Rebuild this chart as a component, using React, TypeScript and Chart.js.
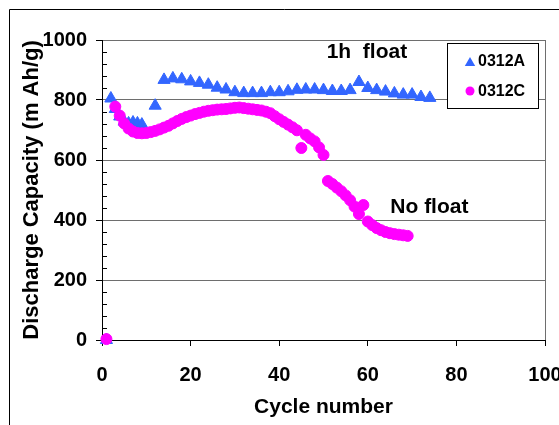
import { useEffect, useRef } from "react";
import { Chart, registerables } from "chart.js";

Chart.register(...registerables);

const FONT = "'Liberation Sans', Arial, Helvetica, sans-serif";

// ---- data ----
const seriesNames = ["0312A", "0312C"];

const cyclesA = [1, 2, 3, 4, 5, 6, 7, 8, 9, 12, 14, 16, 18, 20, 22, 24, 26, 28, 30, 32, 34, 36, 38, 40, 42, 44, 46, 48, 50, 52, 54, 56, 58, 60, 62, 64, 66, 68, 70, 72, 74];
const capacityA = [0, 805, 770, 745, 728, 722, 725, 722, 718, 781, 867, 872, 869, 862, 857, 851, 841, 835, 826, 823, 823, 823, 826, 826, 829, 834, 835, 835, 833, 830, 830, 833, 860, 840, 833, 828, 822, 818, 818, 810, 807];

const cyclesC = [1, 3, 4, 5, 6, 7, 8, 9, 10, 11, 12, 13, 14, 15, 16, 17, 18, 19, 20, 21, 22, 23, 24, 25, 26, 27, 28, 29, 30, 31, 32, 33, 34, 35, 36, 37, 38, 39, 40, 41, 42, 43, 44, 45, 46, 47, 48, 49, 50, 51, 52, 53, 54, 55, 56, 57, 58, 59, 60, 61, 62, 63, 64, 65, 66, 67, 68, 69];
const capacityC = [3, 778, 748, 722, 705, 695, 690, 689, 690, 693, 697, 702, 708, 714, 722, 730, 737, 743, 748, 753, 757, 761, 764, 766, 768, 769, 770, 772, 774, 775, 773, 771, 769, 767, 765, 761, 756, 746, 736, 727, 718, 709, 699, 640, 684, 672, 662, 642, 617, 530, 520, 508, 496, 482, 466, 445, 420, 450, 395, 383, 373, 366, 360, 356, 353, 351, 349, 347];

const xMin = 0, xMax = 100, xStep = 20;
const yMin = 0, yMax = 1000, yStep = 200, yMinorStep = 40;

const xTitle = "Cycle number";
const yTitle = "Discharge Capacity (m Ah/g)";
const noteFloat = "1h  float";
const noteNoFloat = "No float";
// anchor of the notes, in data units
const noteFloatAt = { x: 59.8, y: 960 };
const noteNoFloatAt = { x: 73.9, y: 443 };

const BLUE = "#3366FF";
const MAGENTA = "#FF00FF";
const GRID = "#6e6e6e";

function triangle(ctx: CanvasRenderingContext2D, x: number, y: number, r: number) {
  ctx.beginPath();
  for (let i = 0; i < 3; i++) {
    const a = (i * 2 * Math.PI) / 3;
    const px = x + Math.sin(a) * r;
    const py = y - Math.cos(a) * r;
    if (i === 0) ctx.moveTo(px, py);
    else ctx.lineTo(px, py);
  }
  ctx.closePath();
  ctx.fill();
}

const decorPlugin = {
  id: "decor",
  beforeDraw(chart: any) {
    const ctx = chart.ctx as CanvasRenderingContext2D;
    ctx.save();
    ctx.fillStyle = "#fff";
    ctx.fillRect(0, 0, chart.width, chart.height);
    ctx.strokeStyle = "#000";
    ctx.lineWidth = 1;
    ctx.beginPath();
    ctx.moveTo(9.5, chart.height);
    ctx.lineTo(9.5, 9.5);
    ctx.lineTo(chart.width, 9.5);
    ctx.stroke();
    ctx.restore();
  },
  afterDraw(chart: any) {
    const ctx = chart.ctx as CanvasRenderingContext2D;
    const ca = chart.chartArea;
    const ys = chart.scales.y;
    const xs = chart.scales.x;
    ctx.save();
    // minor ticks on the y axis, inside
    ctx.strokeStyle = "#000";
    ctx.lineWidth = 1;
    ctx.beginPath();
    for (let v = yMin; v <= yMax; v += yMinorStep) {
      if (v % yStep === 0) continue;
      const p = Math.round(ys.getPixelForValue(v)) + 0.5;
      ctx.moveTo(ca.left, p);
      ctx.lineTo(ca.left + 5, p);
    }
    ctx.stroke();

    // notes
    ctx.fillStyle = "#000";
    ctx.font = `bold 21px ${FONT}`;
    ctx.textAlign = "center";
    ctx.textBaseline = "middle";
    ctx.fillText(noteFloat, xs.getPixelForValue(noteFloatAt.x), ys.getPixelForValue(noteFloatAt.y));
    ctx.fillText(noteNoFloat, xs.getPixelForValue(noteNoFloatAt.x), ys.getPixelForValue(noteNoFloatAt.y));

    // legend box
    const bx = Math.round(ca.right - 98);
    const by = Math.round(ca.top + 3);
    const bw = 91;
    const bh = 65;
    ctx.fillStyle = "#fff";
    ctx.fillRect(bx, by, bw, bh);
    ctx.strokeStyle = "#000";
    ctx.strokeRect(bx + 0.5, by + 0.5, bw, bh);
    ctx.font = `bold 16px ${FONT}`;
    ctx.textAlign = "left";
    ctx.fillStyle = BLUE;
    triangle(ctx, bx + 23, by + 20, 6);
    ctx.fillStyle = MAGENTA;
    ctx.beginPath();
    ctx.arc(bx + 23, by + 48, 4.5, 0, Math.PI * 2);
    ctx.fill();
    ctx.fillStyle = "#000";
    ctx.fillText(seriesNames[0], bx + 31, by + 19);
    ctx.fillText(seriesNames[1], bx + 31, by + 49);
    ctx.restore();
  },
};

export default function App() {
  const ref = useRef<HTMLCanvasElement | null>(null);

  useEffect(() => {
    if (!ref.current) return;
    const chart = new Chart(ref.current, {
      type: "scatter",
      data: {
        datasets: [
          {
            label: seriesNames[0],
            data: cyclesA.map((c, i) => ({ x: c, y: capacityA[i] })),
            pointStyle: "triangle",
            pointRadius: 7,
            pointBackgroundColor: BLUE,
            pointBorderColor: BLUE,
            pointBorderWidth: 1,
            showLine: false,
            clip: false,
            order: 2,
          },
          {
            label: seriesNames[1],
            data: cyclesC.map((c, i) => ({ x: c, y: capacityC[i] })),
            pointStyle: "circle",
            pointRadius: 5.5,
            pointBackgroundColor: MAGENTA,
            pointBorderColor: MAGENTA,
            pointBorderWidth: 1,
            showLine: false,
            clip: false,
            order: 1,
          },
        ],
      },
      options: {
        responsive: false,
        animation: false,
        devicePixelRatio: 1,
        layout: { padding: { left: 10, top: 40, right: 14, bottom: 0 } },
        plugins: {
          legend: { display: false },
          tooltip: { enabled: false },
        },
        scales: {
          x: {
            type: "linear",
            position: "bottom",
            min: xMin,
            max: xMax,
            ticks: {
              stepSize: xStep,
              color: "#000",
              font: { family: FONT, size: 20, weight: "bold" },
              padding: 17,
              maxRotation: 0,
              callback: (v: any) => String(v),
            },
            grid: {
              color: (c: any) => (c.tick && c.tick.value === xMax ? GRID : "rgba(0,0,0,0)"),
              tickColor: "#000",
              tickLength: 6,
              drawOnChartArea: true,
            },
            border: { display: true, color: "#000", width: 1 },
            title: {
              display: true,
              text: xTitle,
              color: "#000",
              font: { family: FONT, size: 21, weight: "bold" },
              padding: { top: 0, bottom: 5 },
            },
            afterFit: (s: any) => {
              s.height = 85;
              s.paddingLeft = 0;
              s.paddingRight = 0;
            },
          },
          y: {
            type: "linear",
            min: yMin,
            max: yMax,
            ticks: {
              stepSize: yStep,
              color: "#000",
              font: { family: FONT, size: 20, weight: "bold" },
              padding: 9,
              callback: (v: any) => String(v),
            },
            grid: {
              color: (c: any) => (c.tick && c.tick.value === yMin ? "rgba(0,0,0,0)" : GRID),
              tickColor: "#000",
              tickLength: 6,
            },
            border: { display: true, color: "#000", width: 1 },
            title: {
              display: true,
              text: yTitle,
              color: "#000",
              font: { family: FONT, size: 22, weight: "bold" },
              padding: { top: 9, bottom: 0 },
            },
            afterFit: (s: any) => {
              s.width = 92;
              s.paddingTop = 0;
              s.paddingBottom = 0;
            },
          },
        },
      },
      plugins: [decorPlugin],
    });
    return () => chart.destroy();
  }, []);

  return (
    <div style={{ position: "fixed", left: 0, top: 0, width: 559, height: 425, background: "#fff" }}>
      <canvas ref={ref} width={559} height={425} style={{ display: "block", width: 559, height: 425 }} />
    </div>
  );
}
